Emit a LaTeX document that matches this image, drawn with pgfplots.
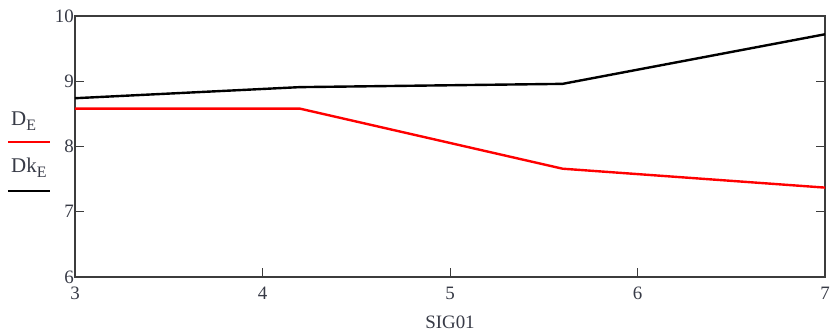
\documentclass[border=0pt]{standalone}
\usepackage{pgfplots}
\pgfplotsset{compat=1.18}
\usepackage{fontspec}
\setmainfont{Liberation Serif}
\definecolor{lbl}{RGB}{55,58,70}
\definecolor{axc}{RGB}{60,60,60}
\begin{document}
\fontsize{19}{22}\selectfont
\begin{tikzpicture}[x=1bp,y=1bp]
\useasboundingbox (-75,-58) rectangle (757,277);
\begin{axis}[
  at={(0,0)}, anchor=south west,
  scale only axis, width=750bp, height=261bp,
  xmin=3, xmax=7, ymin=6, ymax=10,
  xtick={3,4,5,6,7}, ytick={6,7,8,9,10},
  xtick pos=bottom, ytick pos=both,
  tick align=inside, major tick length=9bp,
  axis line style={axc, line width=1.2bp},
  tick style={axc, line width=1bp},
  /pgf/number format/assume math mode=true,
  tick label style={font=\fontsize{19}{22}\selectfont, text=lbl},
  yticklabel style={inner sep=1bp},
  xticklabel style={inner sep=1bp, yshift=-9bp},
  xlabel={SIG01}, xlabel style={font=\fontsize{19}{22}\selectfont, text=lbl, yshift=-8bp},
  clip=false,
]
\addplot[red, line width=2.4bp] coordinates {(3,8.58) (4.2,8.58) (5.6,7.66) (7,7.37)};
\addplot[black, line width=2.4bp] coordinates {(3,8.74) (4.2,8.91) (5.6,8.96) (7,9.72)};
\end{axis}
\node[text=lbl, anchor=base west, inner sep=0pt] at (-64,152) {\fontsize{21}{22}\selectfont D\raisebox{-5bp}{\fontsize{16}{16}\selectfont E}};
\draw[red, line width=2.4bp] (-67,135) -- (-25,135);
\node[text=lbl, anchor=base west, inner sep=0pt] at (-64,105) {\fontsize{21}{22}\selectfont Dk\raisebox{-5bp}{\fontsize{16}{16}\selectfont E}};
\draw[black, line width=2.4bp] (-67,86) -- (-25,86);
\end{tikzpicture}
\end{document}
